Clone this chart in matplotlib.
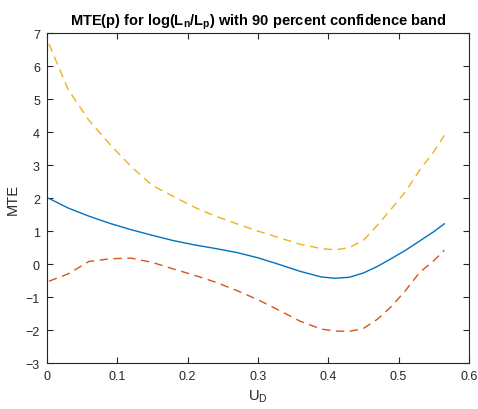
import matplotlib
matplotlib.use('Agg')
import matplotlib.pyplot as plt

# valores
u_d = [0.003, 0.03, 0.06, 0.09, 0.12, 0.15, 0.18, 0.21, 0.24, 0.27, 0.30, 0.33,
       0.36, 0.39, 0.41, 0.43, 0.45, 0.47, 0.49, 0.51, 0.53, 0.55, 0.565]
mte = [1.99, 1.70, 1.45, 1.23, 1.04, 0.87, 0.71, 0.58, 0.47, 0.35, 0.19, -0.01,
       -0.22, -0.39, -0.43, -0.40, -0.27, -0.07, 0.17, 0.42, 0.70, 0.98, 1.22]
upper = [6.67, 5.30, 4.35, 3.62, 2.95, 2.38, 2.05, 1.72, 1.45, 1.22, 1.00, 0.80,
         0.60, 0.47, 0.43, 0.50, 0.72, 1.18, 1.68, 2.20, 2.85, 3.40, 3.90]
lower = [-0.52, -0.30, 0.08, 0.16, 0.18, 0.05, -0.15, -0.34, -0.55, -0.80, -1.08, -1.40,
         -1.73, -1.97, -2.03, -2.04, -1.95, -1.67, -1.28, -0.80, -0.25, 0.10, 0.42]

plt.rcParams['font.family'] = ['Liberation Sans', 'DejaVu Sans']
plt.rcParams['mathtext.fontset'] = 'custom'
plt.rcParams['mathtext.rm'] = 'Liberation Sans'
plt.rcParams['mathtext.bf'] = 'Liberation Sans:bold'

fig = plt.figure(figsize=(4.78, 4.10), dpi=100)
ax = fig.add_axes([0.098, 0.112, 0.883, 0.805])

ax.plot(u_d, mte, color='#0072BD', linewidth=1.0)
ax.plot(u_d, upper, color='#EDB120', linewidth=1.0, linestyle=(0, (6, 4)))
ax.plot(u_d, lower, color='#D95319', linewidth=1.0, linestyle=(0, (6, 4)))

ax.set_xlim(0, 0.6)
ax.set_ylim(-3, 7)
ax.set_xticks([0, 0.1, 0.2, 0.3, 0.4, 0.5, 0.6])
ax.set_xticklabels(['0', '0.1', '0.2', '0.3', '0.4', '0.5', '0.6'])
ax.set_yticks(range(-3, 8))

gris = '#262626'
for s in ax.spines.values():
    s.set_color(gris)
    s.set_linewidth(0.8)
ax.tick_params(direction='in', top=True, right=True, length=4, width=0.8,
               colors=gris, labelsize=9, pad=5)

ax.set_xlabel(r'U$_\mathregular{D}$', fontsize=10.5, color=gris)
ax.set_ylabel('MTE', fontsize=10.5, color=gris)
ax.set_title(r'MTE(p) for log(L$_\mathbf{n}$/L$_\mathbf{p}$) with 90 percent confidence band',
             fontsize=10.5, fontweight='bold', pad=6)

fig.savefig('out.png', dpi=100)
